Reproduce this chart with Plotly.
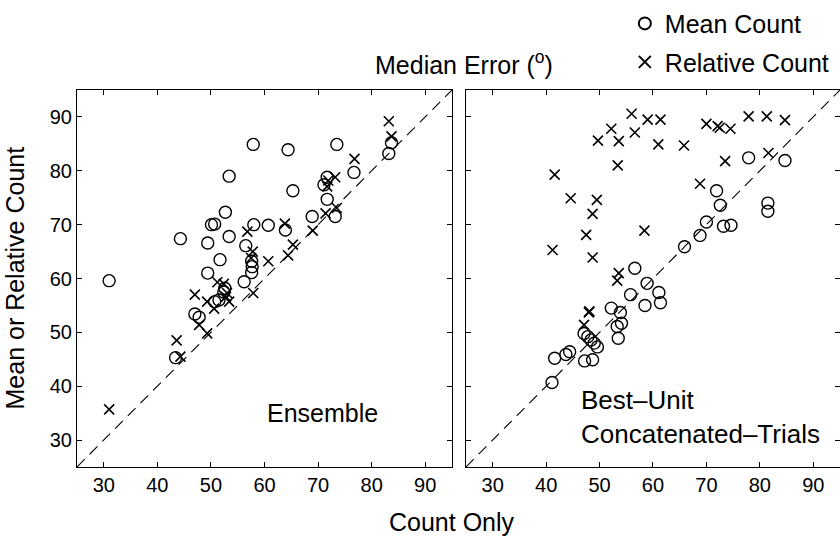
import plotly.graph_objects as go

# Ensemble decoding: median error (deg), count-only vs. mean count / relative count
ens_mean_x = [31.0, 57.9, 64.4, 73.5, 53.4, 65.3, 83.2, 83.7, 76.7, 71.7, 71.1, 71.7,
              68.9, 73.2, 52.7, 50.1, 50.7, 58.0, 60.7, 63.9, 44.3, 53.4, 49.4, 56.5,
              51.7, 57.6, 57.7, 57.6, 49.4, 56.2, 52.6, 52.4, 50.7, 51.5, 47.0, 47.8, 43.4]
ens_mean_y = [59.6, 84.9, 83.9, 84.9, 79.0, 76.3, 83.2, 85.2, 79.7, 78.8, 77.4, 74.7,
              71.5, 71.5, 72.3, 70.0, 70.1, 70.0, 69.9, 69.0, 67.4, 67.8, 66.6, 66.1,
              63.5, 63.2, 62.2, 61.1, 61.0, 59.4, 58.2, 57.5, 55.7, 56.0, 53.4, 52.8, 45.3]
ens_rel_x = [31.0, 43.6, 44.3, 47.0, 47.8, 49.3, 49.3, 50.6, 51.2, 52.4, 53.0, 53.4,
             56.8, 57.8, 57.5, 57.9, 60.7, 63.8, 64.4, 65.3, 69.0, 71.4, 71.7, 71.9,
             73.2, 73.5, 76.8, 83.2, 83.7, 52.8]
ens_rel_y = [35.7, 48.5, 45.5, 57.0, 51.4, 49.8, 55.7, 54.4, 59.3, 59.0, 57.3, 55.7,
             68.7, 65.0, 63.8, 57.3, 63.2, 70.2, 64.3, 66.3, 68.9, 72.1, 77.1, 78.2,
             78.8, 73.1, 82.2, 89.2, 86.4, 56.6]

# Best-unit concatenated-trials decoding
bu_mean_x = [41.1, 41.6, 43.7, 44.4, 47.2, 48.7, 47.1, 47.8, 48.4, 49.0, 49.6, 52.2,
             53.9, 53.3, 54.1, 53.5, 55.8, 56.6, 58.5, 58.9, 61.1, 61.4, 65.9, 68.8,
             70.0, 71.9, 72.6, 73.2, 74.6, 77.9, 84.7, 81.5, 81.5]
bu_mean_y = [40.7, 45.2, 45.9, 46.4, 44.7, 44.9, 49.8, 49.2, 48.6, 48.0, 47.3, 54.5,
             53.7, 51.1, 51.7, 48.9, 57.0, 61.9, 55.0, 59.1, 57.4, 55.5, 65.9, 68.0,
             70.5, 76.3, 73.6, 69.7, 69.9, 82.4, 81.9, 74.0, 72.5]
bu_rel_x = [41.6, 41.2, 44.6, 49.5, 48.7, 47.5, 48.7, 49.7, 52.2, 53.6, 53.4, 56.0,
            56.6, 59.0, 61.4, 61.0, 65.8, 58.4, 68.8, 70.0, 72.1, 72.5, 74.5, 73.5,
            77.9, 81.3, 84.7, 81.6, 53.6, 53.3, 48.0, 48.1, 47.1]
bu_rel_y = [79.3, 65.3, 74.9, 74.6, 72.0, 68.1, 63.9, 85.6, 87.8, 85.5, 81.0, 90.6,
            87.1, 89.5, 89.5, 84.9, 84.7, 68.9, 77.6, 88.7, 88.3, 88.0, 87.8, 81.8,
            90.1, 90.1, 89.4, 83.3, 61.0, 59.6, 53.7, 53.9, 51.4]

ticks = [30, 40, 50, 60, 70, 80, 90]
axis_range = [25, 95]

FONT = "Liberation Sans, Arial, Helvetica, sans-serif"
circle = dict(symbol="circle-open", size=12, color="black", line=dict(width=1.4, color="black"))
cross = dict(symbol="x-thin-open", size=10, color="black", line=dict(width=1.6, color="black"))

fig = go.Figure()

panels = [("x", "y", ens_mean_x, ens_mean_y, ens_rel_x, ens_rel_y, True),
          ("x2", "y2", bu_mean_x, bu_mean_y, bu_rel_x, bu_rel_y, False)]

for xa, ya, mx, my, rx, ry, show in panels:
    # identity line
    fig.add_trace(go.Scatter(x=axis_range, y=axis_range, mode="lines", xaxis=xa, yaxis=ya,
                             line=dict(color="black", width=1.1, dash="11px,7px"),
                             showlegend=False, hoverinfo="skip"))
    fig.add_trace(go.Scatter(x=mx, y=my, mode="markers", xaxis=xa, yaxis=ya, marker=circle,
                             name="Mean Count", legendgroup="mean", showlegend=show))
    fig.add_trace(go.Scatter(x=rx, y=ry, mode="markers", xaxis=xa, yaxis=ya, marker=cross,
                             name="Relative Count", legendgroup="rel", showlegend=show))

axis_common = dict(range=axis_range, tickvals=ticks, showgrid=False, zeroline=False,
                   showline=True, linecolor="black", linewidth=1, mirror="ticks",
                   ticks="inside", ticklen=5, tickcolor="black", tickwidth=1,
                   tickfont=dict(family=FONT, size=20, color="black"))

fig.update_layout(
    width=840, height=536,
    margin=dict(l=77, r=0, t=90, b=69),
    paper_bgcolor="white", plot_bgcolor="white",
    font=dict(family=FONT, color="black"),
    xaxis=dict(domain=[0, 0.4915], anchor="y", **axis_common),
    yaxis=dict(domain=[0, 1], anchor="x", **axis_common),
    xaxis2=dict(domain=[0.5098, 1.0], anchor="y2", **axis_common),
    yaxis2=dict(domain=[0, 1], anchor="x2", showticklabels=False,
                **{k: v for k, v in axis_common.items() if k != "tickfont"}),
    legend=dict(x=0.718, y=1.237, xanchor="left", yanchor="top",
                font=dict(family=FONT, size=25, color="black"),
                tracegroupgap=3, bgcolor="rgba(0,0,0,0)", itemsizing="constant"),
    annotations=[
        dict(text="Median Error (<sup>o</sup>)", xref="paper", yref="paper",
             x=0.507, y=1.0, yshift=27, xanchor="center", yanchor="middle",
             showarrow=False, font=dict(family=FONT, size=25)),
        dict(text="Count Only", xref="paper", yref="paper", x=0.491, y=0, yshift=-55,
             xanchor="center", yanchor="middle", showarrow=False,
             font=dict(family=FONT, size=25)),
        dict(text="Mean or Relative Count", xref="paper", yref="paper", x=0, xshift=-63,
             y=0.5, textangle=-90, xanchor="center", yanchor="middle", showarrow=False,
             font=dict(family=FONT, size=25)),
        dict(text="Ensemble", xref="x", yref="y", x=70.9, y=35, xanchor="center",
             yanchor="middle", showarrow=False, font=dict(family=FONT, size=25)),
        dict(text="Best–Unit<br>Concatenated–Trials", xref="x2", yref="y2", x=46.1, y=34.3,
             xanchor="left", yanchor="middle", align="left", showarrow=False,
             font=dict(family=FONT, size=26)),
    ],
)

fig.write_html("out.html")
